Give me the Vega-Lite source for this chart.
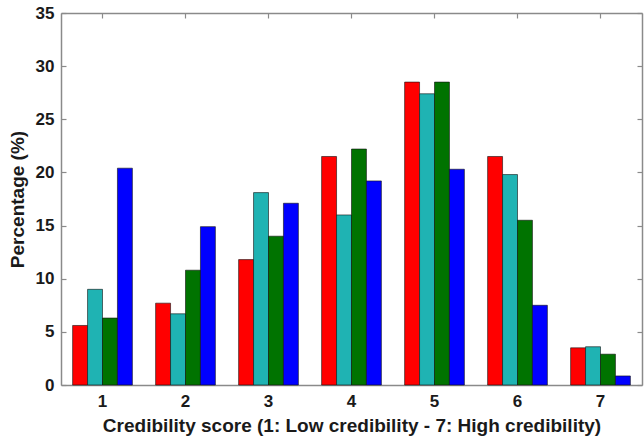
{
  "$schema": "https://vega.github.io/schema/vega-lite/v6.json",
  "width": 581,
  "height": 372,
  "autosize": {"type": "none"},
  "padding": {"left": 61, "top": 13, "right": 2, "bottom": 53},
  "background": "white",
  "config": {
    "view": {"stroke": null},
    "axis": {
      "labelFont": "Liberation Sans",
      "titleFont": "Liberation Sans",
      "labelFontWeight": "bold",
      "titleFontWeight": "bold",
      "labelFontSize": 17,
      "titleFontSize": 19,
      "labelColor": "#1a1a1a",
      "titleColor": "#1a1a1a",
      "domainColor": "#8a8a8a",
      "tickColor": "#8a8a8a",
      "domainWidth": 1.5,
      "tickWidth": 1.2,
      "grid": false
    }
  },
  "data": {
    "values": [
      {"score": "1", "group": "A", "pct": 5.6},
      {"score": "1", "group": "B", "pct": 9.0},
      {"score": "1", "group": "C", "pct": 6.3},
      {"score": "1", "group": "D", "pct": 20.4},
      {"score": "2", "group": "A", "pct": 7.7},
      {"score": "2", "group": "B", "pct": 6.7},
      {"score": "2", "group": "C", "pct": 10.8},
      {"score": "2", "group": "D", "pct": 14.9},
      {"score": "3", "group": "A", "pct": 11.8},
      {"score": "3", "group": "B", "pct": 18.1},
      {"score": "3", "group": "C", "pct": 14.0},
      {"score": "3", "group": "D", "pct": 17.1},
      {"score": "4", "group": "A", "pct": 21.5},
      {"score": "4", "group": "B", "pct": 16.0},
      {"score": "4", "group": "C", "pct": 22.2},
      {"score": "4", "group": "D", "pct": 19.2},
      {"score": "5", "group": "A", "pct": 28.5},
      {"score": "5", "group": "B", "pct": 27.4},
      {"score": "5", "group": "C", "pct": 28.5},
      {"score": "5", "group": "D", "pct": 20.3},
      {"score": "6", "group": "A", "pct": 21.5},
      {"score": "6", "group": "B", "pct": 19.8},
      {"score": "6", "group": "C", "pct": 15.5},
      {"score": "6", "group": "D", "pct": 7.5},
      {"score": "7", "group": "A", "pct": 3.5},
      {"score": "7", "group": "B", "pct": 3.6},
      {"score": "7", "group": "C", "pct": 2.9},
      {"score": "7", "group": "D", "pct": 0.85}
    ]
  },
  "layer": [
    {
      "mark": {"type": "bar", "stroke": "#111111", "strokeWidth": 0.6},
      "encoding": {
        "x": {
          "field": "score", "type": "ordinal",
          "scale": {"paddingInner": 0.28, "paddingOuter": 0.14},
          "axis": {
            "orient": "bottom", "labelAngle": 0, "tickSize": -5, "labelPadding": 13,
            "titlePadding": 7,
            "title": "Credibility score (1: Low credibility - 7: High credibility)"
          }
        },
        "xOffset": {"field": "group", "type": "nominal", "scale": {"paddingInner": 0, "paddingOuter": 0}},
        "y": {
          "field": "pct", "type": "quantitative",
          "scale": {"domain": [0, 35], "nice": false},
          "axis": {
            "orient": "left", "values": [0, 5, 10, 15, 20, 25, 30, 35], "tickSize": -5,
            "labelPadding": 12, "titlePadding": 8, "title": "Percentage (%)"
          }
        },
        "color": {
          "field": "group", "type": "nominal",
          "scale": {"domain": ["A", "B", "C", "D"], "range": ["#ff0000", "#1fb3b3", "#007300", "#0000ff"]},
          "legend": null
        }
      }
    },
    {
      "mark": {"type": "bar", "opacity": 0},
      "encoding": {
        "x": {
          "field": "score", "type": "ordinal",
          "axis": {"orient": "top", "labels": false, "title": null, "tickSize": -5}
        },
        "xOffset": {"field": "group", "type": "nominal"},
        "y": {
          "field": "pct", "type": "quantitative",
          "axis": {"orient": "right", "labels": false, "title": null, "tickSize": -5, "values": [0, 5, 10, 15, 20, 25, 30, 35]}
        }
      }
    }
  ],
  "resolve": {"axis": {"x": "independent", "y": "independent"}}
}
